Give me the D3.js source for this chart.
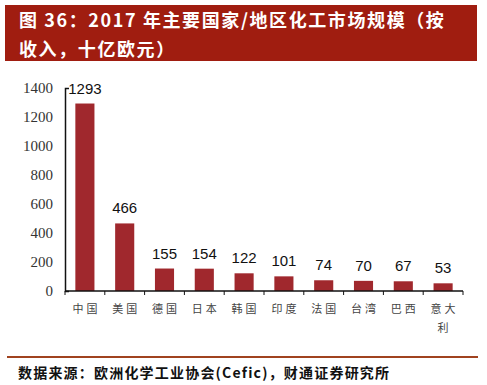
<!DOCTYPE html>
<html>
<head>
<meta charset="utf-8">
<script src="https://cdn.jsdelivr.net/npm/d3@7"></script>
<style>
  body { margin: 0; background: #fff; }
  svg { display: block; }
</style>
</head>
<body>
<script>
// data
var countries = ['中国', '美国', '德国', '日本', '韩国', '印度', '法国', '台湾', '巴西', '意大利']
var revenue = [1293, 466, 155, 154, 122, 101, 74, 70, 67, 53]
var yTicks = [0, 200, 400, 600, 800, 1000, 1200, 1400]
var titleLines = ['图 36：2017 年主要国家/地区化工市场规模（按', '收入，十亿欧元）']
var sourceText = '数据来源：欧洲化学工业协会(Cefic)，财通证券研究所'

var width = 487, height = 385
var cjk = '"Noto Sans CJK SC", "Noto Sans", sans-serif'

var svg = d3.select('body').append('svg')
    .attr('width', width)
    .attr('height', height)

// title band
svg.append('rect')
    .attr('x', 5).attr('y', 5)
    .attr('width', 472).attr('height', 56)
    .attr('fill', '#a01d10')

svg.selectAll('.title')
    .data(titleLines)
    .enter()
    .append('text')
    .attr('class', 'title')
    .attr('x', 19)
    .attr('y', (d, i) => 27 + i * 29)
    .attr('fill', '#fff')
    .style('font-family', cjk)
    .style('font-weight', 'bold')
    .style('font-size', '18px')
    .style('letter-spacing', '1.6px')
    .text(d => d)

// chart area
var x = d3.scaleBand()
    .domain(countries)
    .range([65, 463])
    .paddingInner(0.52)
    .paddingOuter(0.26)

var y = d3.scaleLinear()
    .domain([0, 1400])
    .range([291, 88])

var g = svg.append('g')

g.selectAll('.bar')
    .data(revenue)
    .enter()
    .append('rect')
    .attr('class', 'bar')
    .attr('x', (d, i) => x(countries[i]))
    .attr('y', d => y(d))
    .attr('width', x.bandwidth())
    .attr('height', d => y(0) - y(d))
    .attr('fill', '#a0282d')

g.selectAll('.val')
    .data(revenue)
    .enter()
    .append('text')
    .attr('class', 'val')
    .attr('x', (d, i) => x(countries[i]) + x.bandwidth() / 2)
    .attr('y', d => y(d) - 10)
    .attr('text-anchor', 'middle')
    .style('font-family', '"Liberation Sans", Arial, sans-serif')
    .style('font-size', '15px')
    .attr('fill', '#111')
    .text(d => d)

// y axis
var yAxis = g.append('g')
    .attr('transform', 'translate(65,0)')
    .call(d3.axisLeft(y).tickValues(yTicks).tickFormat(d3.format('d'))
        .tickSize(0).tickSizeOuter(-4).tickPadding(12))
yAxis.attr('font-family', null)
yAxis.select('.domain').attr('stroke', '#111').attr('stroke-width', 1.5)
yAxis.selectAll('text')
    .style('font-family', '"Liberation Serif", "Times New Roman", serif')
    .style('font-size', '15px')
    .attr('fill', '#333')

// x axis with boundary ticks
var bounds = d3.range(countries.length + 1).map(i => 65 + i * (463 - 65) / countries.length)
g.append('line')
    .attr('x1', 65).attr('x2', 463)
    .attr('y1', y(0)).attr('y2', y(0))
    .attr('stroke', '#111').attr('stroke-width', 1.5)
g.selectAll('.xtick')
    .data(bounds)
    .enter()
    .append('line')
    .attr('class', 'xtick')
    .attr('x1', d => d).attr('x2', d => d)
    .attr('y1', y(0)).attr('y2', y(0) + 4)
    .attr('stroke', '#111')

// category labels, 意大利 wraps
g.selectAll('.cat')
    .data(countries)
    .enter()
    .append('text')
    .attr('class', 'cat')
    .attr('x', d => x(d) + x.bandwidth() / 2)
    .attr('y', 313)
    .attr('text-anchor', 'middle')
    .style('font-family', cjk)
    .style('font-size', '11px')
    .style('letter-spacing', '3px')
    .attr('fill', '#444')
    .each(function(d) {
        var t = d3.select(this)
        var lines = d.length > 2 ? [d.slice(0, 2), d.slice(2)] : [d]
        lines.forEach((s, i) => {
            t.append('tspan')
                .attr('x', x(d) + x.bandwidth() / 2 + 1.5)
                .attr('dy', i ? 19 : 0)
                .text(s)
        })
    })

// footer
svg.append('line')
    .attr('x1', 7).attr('x2', 478)
    .attr('y1', 357).attr('y2', 357)
    .attr('stroke', '#a0431f')
    .attr('stroke-width', 2)

svg.append('text')
    .attr('x', 18)
    .attr('y', 378)
    .style('font-family', cjk)
    .style('font-weight', 'bold')
    .style('font-size', '14px')
    .style('letter-spacing', '1.2px')
    .attr('fill', '#111')
    .text(sourceText)
</script>
</body>
</html>
